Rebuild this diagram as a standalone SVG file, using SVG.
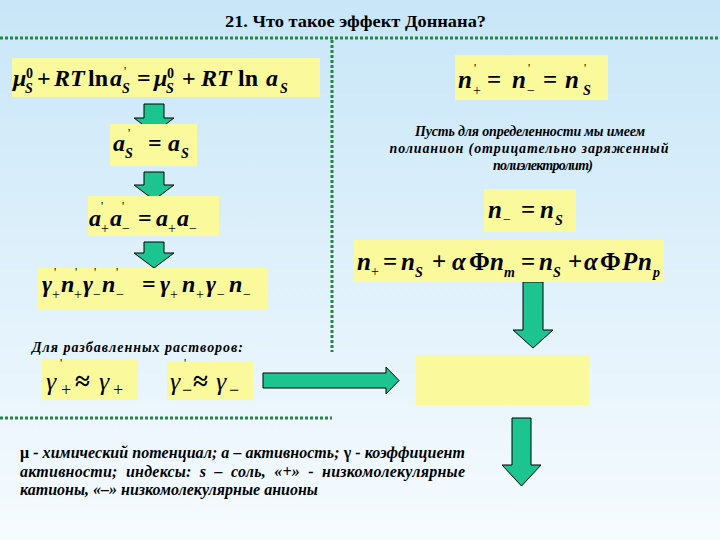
<svg xmlns="http://www.w3.org/2000/svg" width="720" height="540" viewBox="0 0 720 540">
<defs>
<linearGradient id="bg" x1="0" y1="0" x2="0" y2="1">
<stop offset="0" stop-color="#c8e6f8"/>
<stop offset="1" stop-color="#f6fbfe"/>
</linearGradient>
<style>
.box{fill:#fafa9c}
.arr{fill:#1cc490;stroke:#000;stroke-width:1}
.dot{stroke:#23883f;stroke-width:3;stroke-dasharray:3 2;fill:none}
.eq{font-family:"Liberation Serif",serif;font-weight:bold;font-style:italic;font-size:24px;fill:#000}
.eqr{font-family:"Liberation Serif",serif;font-weight:bold;font-style:italic;font-size:25px;fill:#000}
.up{font-style:normal}
.sb{font-size:14px}
.sp{font-size:12px;font-style:normal;font-weight:normal}
.op{font-style:normal;font-weight:normal;font-size:14px}
.gm{font-family:"Liberation Serif",serif;font-style:italic;font-size:26px;fill:#000}
.ap{font-style:normal;font-weight:bold;font-size:27px}
.note{font-family:"Liberation Serif",serif;font-style:italic;font-weight:bold;font-size:14px;fill:#000}
.leg{font-family:"Liberation Serif",serif;font-style:italic;font-weight:bold;font-size:16px;fill:#000}
.title{font-family:"Liberation Serif",serif;font-weight:bold;font-size:16px;fill:#000}
</style>
</defs>
<rect width="720" height="540" fill="url(#bg)"/>
<text class="title" x="225" y="27" textLength="261" lengthAdjust="spacingAndGlyphs">21. Что такое  эффект Доннана?</text>
<g id="connectors">
<line class="dot" x1="0" y1="38" x2="720" y2="38"/>
<line class="dot" x1="332" y1="40" x2="332" y2="352"/>
<line class="dot" x1="0" y1="418" x2="332" y2="418"/>
<polygon class="arr" points="144,104 164,104 164,118 174,118 154,133 134,118 144,118"/>
<polygon class="arr" points="144,172 164,172 164,185 174,185 154,200 134,185 144,185"/>
<polygon class="arr" points="144,242 164,242 164,253 174,253 154,268 134,253 144,253"/>
<polygon class="arr" points="523,282 543,282 543,330 553,330 533,348 513,330 523,330"/>
<polygon class="arr" points="512,418 531,418 531,465 541,465 521.5,486 502,465 512,465"/>
<polygon class="arr" points="263,373 386,373 386,367 399,380.5 386,394 386,388 263,388"/>
</g>
<g id="eq1">
<rect class="box" x="12" y="58" width="308" height="39"/>
<text class="eq" font-size="23"><tspan x="13" y="86">μ</tspan><tspan class="sb up" x="26" y="78">0</tspan><tspan class="sb" x="25" y="93">S</tspan><tspan class="up" x="37" y="86">+</tspan><tspan x="54" y="86">RT</tspan><tspan class="up" x="88" y="86">ln</tspan><tspan x="110" y="86">a</tspan><tspan class="sp" x="124" y="75">'</tspan><tspan class="sb" x="122" y="93">S</tspan><tspan class="up" x="137" y="86">=</tspan><tspan x="154" y="86">μ</tspan><tspan class="sb up" x="167" y="78">0</tspan><tspan class="sb" x="166" y="93">S</tspan><tspan class="up" x="182" y="86">+</tspan><tspan x="201" y="86">RT</tspan><tspan class="up" x="238" y="86">ln</tspan><tspan x="266" y="86">a</tspan><tspan class="sb" x="280" y="93">S</tspan></text>
</g>
<g id="eq2">
<rect class="box" x="110" y="124" width="87" height="42"/>
<text class="eq"><tspan x="113" y="151">a</tspan><tspan class="sp" x="128" y="137">'</tspan><tspan class="sb" x="125" y="158">S</tspan><tspan class="up" x="148" y="151">=</tspan><tspan x="168" y="151">a</tspan><tspan class="sb" x="181" y="158">S</tspan></text>
</g>
<g id="eq3">
<rect class="box" x="88" y="196" width="131" height="40"/>
<text class="eq"><tspan x="89" y="226">a</tspan><tspan class="sp" x="101" y="210">'</tspan><tspan class="op" x="101" y="233">+</tspan><tspan x="110" y="226">a</tspan><tspan class="sp" x="122" y="210">'</tspan><tspan class="op" x="122" y="233">−</tspan><tspan class="up" x="138" y="226">=</tspan><tspan x="156" y="226">a</tspan><tspan class="op" x="168" y="233">+</tspan><tspan x="177" y="226">a</tspan><tspan class="op" x="189" y="233">−</tspan></text>
</g>
<g id="eq4">
<rect class="box" x="38" y="268" width="230" height="42"/>
<text class="eq"><tspan x="42" y="292">γ</tspan><tspan class="sp" x="54" y="276">'</tspan><tspan class="op" x="52" y="299">+</tspan><tspan x="61" y="292">n</tspan><tspan class="sp" x="75" y="276">'</tspan><tspan class="op" x="74" y="299">+</tspan><tspan x="83" y="292">γ</tspan><tspan class="sp" x="94" y="276">'</tspan><tspan class="op" x="93" y="299">−</tspan><tspan x="102" y="292">n</tspan><tspan class="sp" x="116" y="276">'</tspan><tspan class="op" x="116" y="299">−</tspan><tspan class="up" x="142" y="292">=</tspan><tspan x="160" y="292">γ</tspan><tspan class="op" x="170" y="299">+</tspan><tspan x="182" y="292">n</tspan><tspan class="op" x="196" y="299">+</tspan><tspan x="206" y="292">γ</tspan><tspan class="op" x="217" y="299">−</tspan><tspan x="229" y="292">n</tspan><tspan class="op" x="243" y="299">−</tspan></text>
</g>
<g id="eq5">
<rect class="box" x="455" y="55" width="153" height="45"/>
<text class="eqr" font-size="27"><tspan x="458" y="88">n</tspan><tspan class="sp" x="474" y="72">'</tspan><tspan class="op" x="473" y="95">+</tspan><tspan class="up" x="487" y="88">=</tspan><tspan x="512" y="88">n</tspan><tspan class="sp" x="528" y="72">'</tspan><tspan class="op" x="527" y="95">−</tspan><tspan class="up" x="543" y="88">=</tspan><tspan x="565" y="88">n</tspan><tspan class="sp" x="584" y="72">'</tspan><tspan class="sb" x="583" y="95">S</tspan></text>
</g>
<g id="note1">
<text class="note" text-anchor="middle"><tspan x="530" y="136" textLength="230">Пусть для определенности мы имеем</tspan><tspan x="529" y="153" textLength="279">полианион (отрицательно заряженный</tspan><tspan x="543" y="170" textLength="100">полиэлектролит)</tspan></text>
</g>
<g id="eq6">
<rect class="box" x="484" y="189" width="92" height="43"/>
<text class="eqr"><tspan x="488" y="218">n</tspan><tspan class="op" x="503" y="224">−</tspan><tspan class="up" x="521" y="218">=</tspan><tspan x="540" y="218">n</tspan><tspan class="sb" x="555" y="225">S</tspan></text>
</g>
<g id="eq7">
<rect class="box" x="354" y="240" width="310" height="42"/>
<text class="eqr"><tspan x="357" y="270">n</tspan><tspan class="op" x="371" y="276">+</tspan><tspan class="up" x="383" y="270">=</tspan><tspan x="401" y="270">n</tspan><tspan class="sb" x="415" y="277">S</tspan><tspan class="up" x="432" y="270">+</tspan><tspan x="452" y="270">α</tspan><tspan class="up" x="469" y="270">Φ</tspan><tspan x="490" y="270">n</tspan><tspan class="sb" x="504" y="277">m</tspan><tspan class="up" x="521" y="270">=</tspan><tspan x="539" y="270">n</tspan><tspan class="sb" x="553" y="277">S</tspan><tspan class="up" x="568" y="270">+</tspan><tspan x="584" y="270">α</tspan><tspan class="up" x="600" y="270">Φ</tspan><tspan x="622" y="270">P</tspan><tspan x="638" y="270">n</tspan><tspan class="sb" x="653" y="277">p</tspan></text>
</g>
<g id="note2">
<text class="note" x="32" y="352" font-size="16" textLength="211">Для разбавленных растворов:</text>
</g>
<g id="gam1">
<rect class="box" x="42" y="359" width="96" height="41"/>
<text class="gm"><tspan x="46" y="390">γ</tspan><tspan class="sp" x="60" y="367">'</tspan><tspan x="61" y="396" font-size="18" font-style="normal">+</tspan><tspan class="ap" x="75" y="390">≈</tspan><tspan x="99" y="390">γ</tspan><tspan x="113" y="396" font-size="18" font-style="normal">+</tspan></text>
</g>
<g id="gam2">
<rect class="box" x="167" y="361" width="86" height="39"/>
<text class="gm"><tspan x="170" y="390">γ</tspan><tspan class="sp" x="184" y="367">'</tspan><tspan x="182" y="396" font-size="18" font-style="normal">−</tspan><tspan class="ap" x="193" y="390">≈</tspan><tspan x="216" y="390">γ</tspan><tspan x="229" y="396" font-size="18" font-style="normal">−</tspan></text>
</g>
<g id="empty">
<rect class="box" x="416" y="355" width="173" height="50"/>
</g>
<g id="legend">
<text class="leg"><tspan x="20" y="458" textLength="445" lengthAdjust="spacing"><tspan font-style="normal">μ</tspan> - химический потенциал; a – активность; <tspan font-style="normal">γ</tspan> - коэффициент</tspan><tspan x="20" y="477" textLength="445" lengthAdjust="spacing" word-spacing="4">активности; индексы: s – соль, «+» - низкомолекулярные</tspan><tspan x="20" y="495">катионы, «–» низкомолекулярные анионы</tspan></text>
</g>
</svg>
